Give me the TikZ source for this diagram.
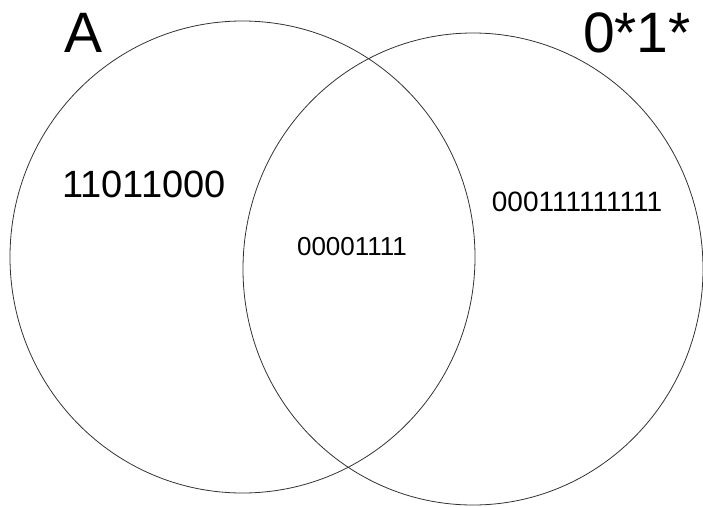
\documentclass[tikz,border=0pt]{standalone}
\usepackage{fontspec}
\setmainfont{Liberation Sans}
\begin{document}
\begin{tikzpicture}[x=1pt,y=-1pt,
  setline/.style={draw=black!80,line width=0.8pt},
  biglabel/.style={font=\fontsize{57}{60}\selectfont,inner sep=0pt},
  midlabel/.style={font=\fontsize{38}{42}\selectfont,inner sep=0pt},
  smalllabel/.style={font=\fontsize{26}{30}\selectfont,inner sep=0pt},
  widelabel/.style={font=\fontsize{28}{32}\selectfont,inner sep=0pt}]
\useasboundingbox (0,0) rectangle (703,506);
\draw[setline] (242.5,257) ellipse [x radius=232.5, y radius=236];
\draw[setline] (473,269) ellipse [x radius=230, y radius=236];
\node[biglabel] (a) at (84,33) {\vphantom{0}A};
\node[biglabel] (b) at (637,33) {0*1*};
\node[midlabel] (c) at (144,184) {11011000};
\node[smalllabel] (d) at (352,247) {00001111};
\node[widelabel] (e) at (577,202) {000111111111};
\end{tikzpicture}
\end{document}
